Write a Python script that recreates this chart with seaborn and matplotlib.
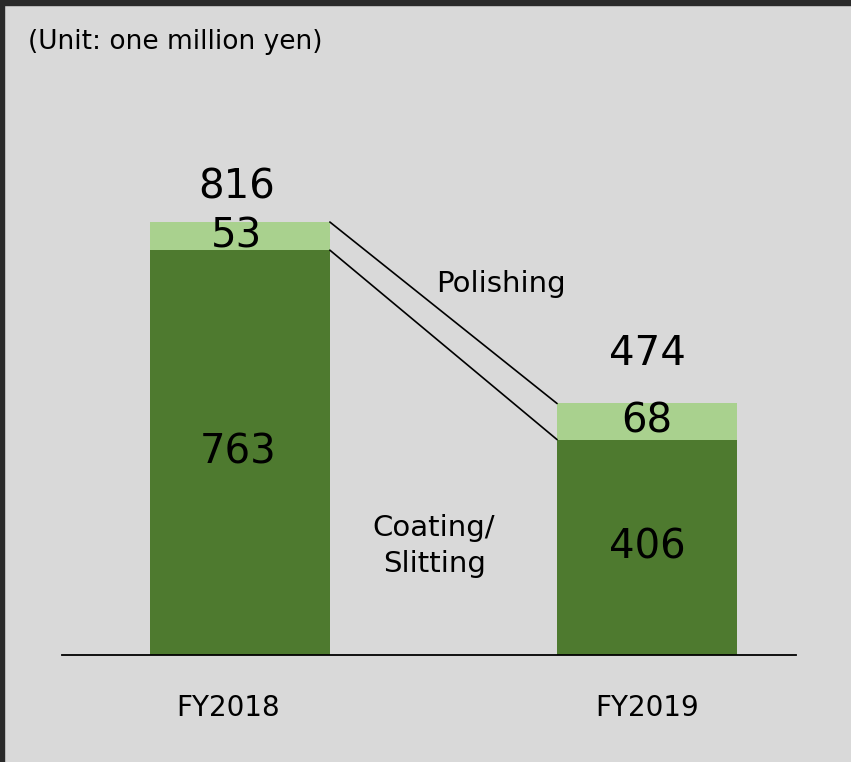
"""
Segment sales, FY2018 vs FY2019 - stacked bars with connector lines.
"""

import matplotlib
matplotlib.use("Agg")
import matplotlib.pyplot as plt
import seaborn as sns
import pandas as pd

# ── Data ──────────────────────────────────────────────────────────────────────
YEARS     = ["FY2018", "FY2019"]
COATING   = [763, 406]      # Coating/Slitting
POLISHING = [53, 68]        # Polishing
TOTALS    = [c + p for c, p in zip(COATING, POLISHING)]

# ── Style ──────────────────────────────────────────────────────────────────────
BG        = "#d9d9d9"
DARK      = "#4e7a2f"
LIGHT     = "#a9d18e"
sns.set_theme(style="white")
plt.rcParams.update({
    "figure.facecolor": BG,
    "axes.facecolor":   BG,
    "text.color":       "black",
    "xtick.color":      "black",
    "font.family":      ["DejaVu Sans"],
})

df = pd.DataFrame({"year": YEARS, "coating": COATING, "total": TOTALS})

fig = plt.figure(figsize=(8.51, 7.62), dpi=100)
# dark frame strips along the top and left edges
fig.patches.append(plt.Rectangle((0, 0.9935), 1, 0.0065, transform=fig.transFigure,
                                 color="#2a2a2a", zorder=0))
fig.patches.append(plt.Rectangle((0, 0), 0.005, 1, transform=fig.transFigure,
                                 color="#2a2a2a", zorder=0))

W, H = 851, 762
ax = fig.add_axes([62 / W, (H - 655) / H, (796 - 62) / W, (655 - 5) / H])

bar_w = 0.442
sns.barplot(data=df, x="year", y="total", color=LIGHT, width=bar_w,
            saturation=1, linewidth=0, ax=ax)
sns.barplot(data=df, x="year", y="coating", color=DARK, width=bar_w,
            saturation=1, linewidth=0, ax=ax)

ax.set_xlim(-0.437, 1.366)
ax.set_ylim(0, 650 / 0.5306)

# connector lines between the bars
half = bar_w / 2
ax.plot([half, 1 - half], [TOTALS[0], TOTALS[1]], color="black", lw=1.2)
ax.plot([half, 1 - half], [COATING[0], COATING[1]], color="black", lw=1.2)

# value labels
total_gap = [66, 94]
for i in range(2):
    ax.text(i - 0.008 * (1 - i), TOTALS[i] + total_gap[i], f"{TOTALS[i]}",
            ha="center", va="center", fontsize=29)
    ax.text(i - 0.008 * (1 - i), COATING[i] + POLISHING[i] / 2, f"{POLISHING[i]}",
            ha="center", va="center", fontsize=29)
    ax.text(i - 0.005 * (1 - i), COATING[i] / 2, f"{COATING[i]}", ha="center",
            va="center", fontsize=29)

ax.text(0.64, 700, "Polishing", ha="center", va="center", fontsize=21)
ax.text(0.477, 205, "Coating/\nSlitting", ha="center", va="center", fontsize=21,
        linespacing=1.35)

# axes cosmetics
for s in ["top", "right", "left"]:
    ax.spines[s].set_visible(False)
ax.spines["bottom"].set_color("black")
ax.spines["bottom"].set_linewidth(1.3)
ax.set_yticks([])
ax.set_xlabel("")
ax.set_ylabel("")
ax.tick_params(axis="x", length=0, labelsize=20, pad=28)
ax.set_xticks([-0.03, 1.0])
ax.set_xticklabels(YEARS)

fig.text(28 / W, 1 - 42 / H, "(Unit: one million yen)", ha="left", va="center",
         fontsize=19)

plt.savefig("out.png", dpi=100, facecolor=BG)
plt.close()
